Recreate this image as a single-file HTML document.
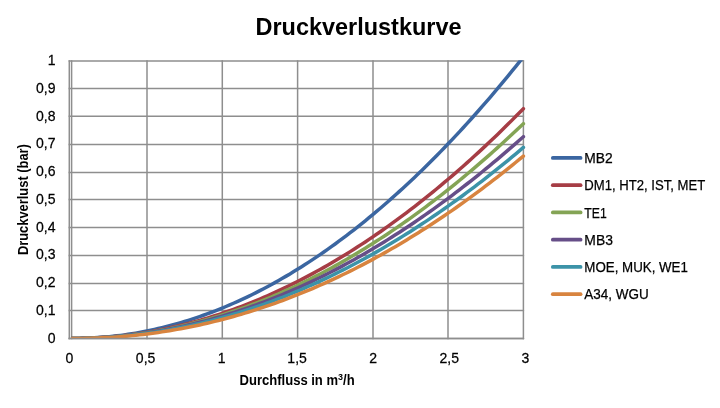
<!DOCTYPE html>
<html><head><meta charset="utf-8"><title>Druckverlustkurve</title>
<style>
html,body{margin:0;padding:0;background:#fff;}
body{width:720px;height:408px;overflow:hidden;}
svg{display:block;filter:blur(0.3px);}
text{font-family:"Liberation Sans", sans-serif;fill:#000;}
.rg text{stroke:#000;stroke-width:0.25px;}
</style></head><body>
<svg width="720" height="408" viewBox="0 0 720 408">
<rect width="720" height="408" fill="#fff"/>
<defs><clipPath id="pa"><rect x="71.19999999999999" y="60.2" width="457.79999999999995" height="278.40"/></clipPath></defs>

<text x="358.5" y="34.7" text-anchor="middle" font-weight="bold" font-size="23" textLength="206" lengthAdjust="spacingAndGlyphs">Druckverlustkurve</text>
<g stroke="#8e8e8e" stroke-width="1.5" fill="none"><line x1="68.6" y1="338.50" x2="524.1" y2="338.50"/><line x1="68.6" y1="310.50" x2="524.1" y2="310.50"/><line x1="68.6" y1="283.50" x2="524.1" y2="283.50"/><line x1="68.6" y1="255.50" x2="524.1" y2="255.50"/><line x1="68.6" y1="227.50" x2="524.1" y2="227.50"/><line x1="68.6" y1="199.50" x2="524.1" y2="199.50"/><line x1="68.6" y1="172.50" x2="524.1" y2="172.50"/><line x1="68.6" y1="144.50" x2="524.1" y2="144.50"/><line x1="68.6" y1="116.30" x2="524.1" y2="116.30"/><line x1="68.6" y1="88.50" x2="524.1" y2="88.50"/><line x1="68.6" y1="61.00" x2="524.1" y2="61.00"/><line x1="71.60" y1="60.30" x2="71.60" y2="339.20"/><line x1="147.00" y1="60.30" x2="147.00" y2="339.20"/><line x1="222.30" y1="60.30" x2="222.30" y2="339.20"/><line x1="297.60" y1="60.30" x2="297.60" y2="339.20"/><line x1="373.00" y1="60.30" x2="373.00" y2="339.20"/><line x1="448.00" y1="60.30" x2="448.00" y2="339.20"/><line x1="523.40" y1="60.30" x2="523.40" y2="339.20"/><line x1="69.3" y1="60.30" x2="69.3" y2="339.20"/></g>
<g class="rg" font-size="15"><text transform="translate(55.5,342.70) scale(0.935,1)" text-anchor="end">0</text><text transform="translate(55.5,314.95) scale(0.935,1)" text-anchor="end">0,1</text><text transform="translate(55.5,287.20) scale(0.935,1)" text-anchor="end">0,2</text><text transform="translate(55.5,259.45) scale(0.935,1)" text-anchor="end">0,3</text><text transform="translate(55.5,231.70) scale(0.935,1)" text-anchor="end">0,4</text><text transform="translate(55.5,203.95) scale(0.935,1)" text-anchor="end">0,5</text><text transform="translate(55.5,176.20) scale(0.935,1)" text-anchor="end">0,6</text><text transform="translate(55.5,148.45) scale(0.935,1)" text-anchor="end">0,7</text><text transform="translate(55.5,120.70) scale(0.935,1)" text-anchor="end">0,8</text><text transform="translate(55.5,92.95) scale(0.935,1)" text-anchor="end">0,9</text><text transform="translate(55.5,65.20) scale(0.935,1)" text-anchor="end">1</text></g>
<g class="rg" font-size="15"><text transform="translate(69.40,362.9) scale(0.935,1)" text-anchor="middle">0</text><text transform="translate(145.60,362.9) scale(0.935,1)" text-anchor="middle">0,5</text><text transform="translate(221.60,362.9) scale(0.935,1)" text-anchor="middle">1</text><text transform="translate(297.10,362.9) scale(0.935,1)" text-anchor="middle">1,5</text><text transform="translate(373.10,362.9) scale(0.935,1)" text-anchor="middle">2</text><text transform="translate(449.30,362.9) scale(0.935,1)" text-anchor="middle">2,5</text><text transform="translate(525.50,362.9) scale(0.935,1)" text-anchor="middle">3</text></g>
<text x="239.6" y="385.4" font-weight="bold" font-size="13.8" textLength="115" lengthAdjust="spacingAndGlyphs">Durchfluss in m<tspan font-size="9.5" dy="-5.3">3</tspan><tspan dy="5.3">/h</tspan></text>
<text transform="translate(28.4,199.6) rotate(-90)" text-anchor="middle" font-weight="bold" font-size="13.8" textLength="111" lengthAdjust="spacingAndGlyphs">Druckverlust (bar)</text>
<g clip-path="url(#pa)" fill="none" stroke-width="3.5" stroke-linejoin="round" stroke-linecap="round"><polyline points="71.60,338.50 75.36,338.48 79.13,338.43 82.89,338.34 86.66,338.21 90.42,338.05 94.19,337.85 97.95,337.61 101.72,337.33 105.48,337.02 109.25,336.66 113.01,336.27 116.78,335.84 120.54,335.37 124.31,334.87 128.07,334.32 131.84,333.74 135.60,333.12 139.37,332.46 143.13,331.76 146.90,331.02 150.66,330.24 154.43,329.43 158.19,328.57 161.96,327.68 165.72,326.75 169.49,325.78 173.25,324.77 177.02,323.72 180.78,322.63 184.55,321.50 188.31,320.33 192.08,319.13 195.84,317.88 199.61,316.60 203.38,315.27 207.14,313.91 210.91,312.50 214.67,311.06 218.43,309.58 222.20,308.06 225.96,306.50 229.73,304.90 233.49,303.26 237.26,301.58 241.02,299.86 244.79,298.10 248.56,296.30 252.32,294.46 256.09,292.59 259.85,290.67 263.62,288.71 267.38,286.71 271.14,284.68 274.91,282.60 278.67,280.49 282.44,278.33 286.20,276.13 289.97,273.90 293.74,271.62 297.50,269.31 301.26,266.95 305.03,264.56 308.79,262.12 312.56,259.65 316.32,257.13 320.09,254.58 323.86,251.98 327.62,249.35 331.38,246.67 335.15,243.96 338.91,241.20 342.68,238.41 346.44,235.57 350.21,232.70 353.98,229.78 357.74,226.83 361.50,223.83 365.27,220.80 369.03,217.72 372.80,214.60 376.56,211.45 380.33,208.25 384.10,205.02 387.86,201.74 391.62,198.42 395.39,195.06 399.15,191.67 402.92,188.23 406.68,184.75 410.45,181.23 414.21,177.67 417.98,174.07 421.75,170.44 425.51,166.76 429.27,163.04 433.04,159.28 436.80,155.47 440.57,151.63 444.34,147.75 448.10,143.83 451.87,139.87 455.63,135.87 459.39,131.82 463.16,127.74 466.92,123.61 470.69,119.45 474.45,115.25 478.22,111.00 481.99,106.71 485.75,102.39 489.51,98.02 493.28,93.61 497.04,89.17 500.81,84.68 504.57,80.15 508.34,75.58 512.10,70.97 515.87,66.32 519.63,61.63 523.40,56.90" stroke="#3b66a1"/><polyline points="71.60,338.50 75.36,338.48 79.13,338.44 82.89,338.36 86.66,338.25 90.42,338.12 94.19,337.95 97.95,337.74 101.72,337.51 105.48,337.25 109.25,336.95 113.01,336.62 116.78,336.26 120.54,335.87 124.31,335.45 128.07,335.00 131.84,334.51 135.60,334.00 139.37,333.45 143.13,332.87 146.90,332.25 150.66,331.61 154.43,330.93 158.19,330.22 161.96,329.48 165.72,328.71 169.49,327.91 173.25,327.07 177.02,326.21 180.78,325.31 184.55,324.38 188.31,323.41 192.08,322.42 195.84,321.39 199.61,320.33 203.38,319.24 207.14,318.12 210.91,316.96 214.67,315.77 218.43,314.55 222.20,313.30 225.96,312.02 229.73,310.70 233.49,309.36 237.26,307.98 241.02,306.56 244.79,305.12 248.56,303.65 252.32,302.14 256.09,300.60 259.85,299.02 263.62,297.42 267.38,295.78 271.14,294.11 274.91,292.41 278.67,290.68 282.44,288.91 286.20,287.12 289.97,285.29 293.74,283.42 297.50,281.53 301.26,279.60 305.03,277.65 308.79,275.65 312.56,273.63 316.32,271.58 320.09,269.49 323.86,267.37 327.62,265.22 331.38,263.03 335.15,260.81 338.91,258.57 342.68,256.28 346.44,253.97 350.21,251.62 353.98,249.25 357.74,246.84 361.50,244.39 365.27,241.92 369.03,239.41 372.80,236.87 376.56,234.30 380.33,231.69 384.10,229.06 387.86,226.39 391.62,223.69 395.39,220.95 399.15,218.19 402.92,215.39 406.68,212.56 410.45,209.69 414.21,206.80 417.98,203.87 421.75,200.91 425.51,197.92 429.27,194.89 433.04,191.83 436.80,188.74 440.57,185.62 444.34,182.46 448.10,179.28 451.87,176.06 455.63,172.81 459.39,169.52 463.16,166.20 466.92,162.85 470.69,159.47 474.45,156.06 478.22,152.61 481.99,149.13 485.75,145.62 489.51,142.08 493.28,138.50 497.04,134.89 500.81,131.25 504.57,127.57 508.34,123.87 512.10,120.13 515.87,116.36 519.63,112.55 523.40,108.72" stroke="#a63d45"/><polyline points="71.60,338.50 75.36,338.49 79.13,338.44 82.89,338.37 86.66,338.27 90.42,338.14 94.19,337.98 97.95,337.79 101.72,337.58 105.48,337.33 109.25,337.05 113.01,336.75 116.78,336.41 120.54,336.04 124.31,335.65 128.07,335.23 131.84,334.77 135.60,334.29 139.37,333.77 143.13,333.23 146.90,332.66 150.66,332.06 154.43,331.42 158.19,330.76 161.96,330.07 165.72,329.35 169.49,328.60 173.25,327.82 177.02,327.01 180.78,326.16 184.55,325.29 188.31,324.39 192.08,323.46 195.84,322.50 199.61,321.51 203.38,320.49 207.14,319.44 210.91,318.36 214.67,317.25 218.43,316.11 222.20,314.94 225.96,313.74 229.73,312.51 233.49,311.25 237.26,309.96 241.02,308.64 244.79,307.29 248.56,305.91 252.32,304.50 256.09,303.06 259.85,301.59 263.62,300.09 267.38,298.56 271.14,297.00 274.91,295.41 278.67,293.79 282.44,292.14 286.20,290.46 289.97,288.74 293.74,287.00 297.50,285.23 301.26,283.43 305.03,281.60 308.79,279.74 312.56,277.85 316.32,275.92 320.09,273.97 323.86,271.99 327.62,269.98 331.38,267.93 335.15,265.86 338.91,263.76 342.68,261.63 346.44,259.46 350.21,257.27 353.98,255.05 357.74,252.79 361.50,250.51 365.27,248.19 369.03,245.85 372.80,243.47 376.56,241.07 380.33,238.63 384.10,236.17 387.86,233.67 391.62,231.15 395.39,228.59 399.15,226.00 402.92,223.39 406.68,220.74 410.45,218.06 414.21,215.35 417.98,212.62 421.75,209.85 425.51,207.05 429.27,204.22 433.04,201.36 436.80,198.47 440.57,195.55 444.34,192.60 448.10,189.62 451.87,186.61 455.63,183.57 459.39,180.50 463.16,177.40 466.92,174.27 470.69,171.11 474.45,167.91 478.22,164.69 481.99,161.44 485.75,158.15 489.51,154.84 493.28,151.50 497.04,148.12 500.81,144.72 504.57,141.28 508.34,137.81 512.10,134.32 515.87,130.79 519.63,127.24 523.40,123.65" stroke="#84a455"/><polyline points="71.60,338.50 75.36,338.49 79.13,338.44 82.89,338.37 86.66,338.28 90.42,338.15 94.19,338.00 97.95,337.81 101.72,337.60 105.48,337.36 109.25,337.10 113.01,336.80 116.78,336.48 120.54,336.13 124.31,335.75 128.07,335.35 131.84,334.91 135.60,334.45 139.37,333.96 143.13,333.44 146.90,332.89 150.66,332.32 154.43,331.72 158.19,331.09 161.96,330.43 165.72,329.74 169.49,329.03 173.25,328.28 177.02,327.51 180.78,326.71 184.55,325.89 188.31,325.03 192.08,324.15 195.84,323.24 199.61,322.30 203.38,321.33 207.14,320.34 210.91,319.32 214.67,318.26 218.43,317.19 222.20,316.08 225.96,314.94 229.73,313.78 233.49,312.59 237.26,311.37 241.02,310.12 244.79,308.85 248.56,307.54 252.32,306.21 256.09,304.85 259.85,303.47 263.62,302.05 267.38,300.61 271.14,299.14 274.91,297.64 278.67,296.11 282.44,294.55 286.20,292.97 289.97,291.36 293.74,289.72 297.50,288.05 301.26,286.35 305.03,284.63 308.79,282.88 312.56,281.10 316.32,279.29 320.09,277.46 323.86,275.59 327.62,273.70 331.38,271.78 335.15,269.83 338.91,267.86 342.68,265.85 346.44,263.82 350.21,261.76 353.98,259.67 357.74,257.56 361.50,255.41 365.27,253.24 369.03,251.04 372.80,248.81 376.56,246.56 380.33,244.27 384.10,241.96 387.86,239.62 391.62,237.25 395.39,234.85 399.15,232.43 402.92,229.98 406.68,227.50 410.45,224.99 414.21,222.45 417.98,219.89 421.75,217.30 425.51,214.67 429.27,212.03 433.04,209.35 436.80,206.64 440.57,203.91 444.34,201.15 448.10,198.36 451.87,195.55 455.63,192.70 459.39,189.83 463.16,186.93 466.92,184.00 470.69,181.04 474.45,178.06 478.22,175.04 481.99,172.00 485.75,168.93 489.51,165.84 493.28,162.71 497.04,159.56 500.81,156.38 504.57,153.17 508.34,149.93 512.10,146.67 515.87,143.37 519.63,140.05 523.40,136.70" stroke="#664e88"/><polyline points="71.60,338.50 75.36,338.49 79.13,338.45 82.89,338.39 86.66,338.30 90.42,338.18 94.19,338.04 97.95,337.87 101.72,337.68 105.48,337.46 109.25,337.21 113.01,336.94 116.78,336.64 120.54,336.32 124.31,335.97 128.07,335.59 131.84,335.18 135.60,334.75 139.37,334.30 143.13,333.81 146.90,333.31 150.66,332.77 154.43,332.21 158.19,331.62 161.96,331.00 165.72,330.36 169.49,329.69 173.25,329.00 177.02,328.28 180.78,327.53 184.55,326.76 188.31,325.95 192.08,325.13 195.84,324.27 199.61,323.39 203.38,322.48 207.14,321.55 210.91,320.59 214.67,319.60 218.43,318.59 222.20,317.55 225.96,316.48 229.73,315.39 233.49,314.27 237.26,313.12 241.02,311.95 244.79,310.75 248.56,309.52 252.32,308.26 256.09,306.98 259.85,305.68 263.62,304.34 267.38,302.98 271.14,301.59 274.91,300.18 278.67,298.74 282.44,297.27 286.20,295.77 289.97,294.25 293.74,292.70 297.50,291.13 301.26,289.53 305.03,287.90 308.79,286.24 312.56,284.56 316.32,282.85 320.09,281.12 323.86,279.35 327.62,277.56 331.38,275.75 335.15,273.90 338.91,272.03 342.68,270.14 346.44,268.21 350.21,266.26 353.98,264.29 357.74,262.28 361.50,260.25 365.27,258.19 369.03,256.11 372.80,254.00 376.56,251.86 380.33,249.69 384.10,247.50 387.86,245.28 391.62,243.03 395.39,240.76 399.15,238.46 402.92,236.13 406.68,233.78 410.45,231.40 414.21,228.99 417.98,226.55 421.75,224.09 425.51,221.60 429.27,219.09 433.04,216.55 436.80,213.98 440.57,211.38 444.34,208.76 448.10,206.11 451.87,203.43 455.63,200.73 459.39,197.99 463.16,195.24 466.92,192.45 470.69,189.64 474.45,186.80 478.22,183.93 481.99,181.04 485.75,178.12 489.51,175.17 493.28,172.20 497.04,169.20 500.81,166.17 504.57,163.12 508.34,160.03 512.10,156.93 515.87,153.79 519.63,150.63 523.40,147.44" stroke="#3c93a8"/><polyline points="71.60,338.50 75.36,338.49 79.13,338.46 82.89,338.41 86.66,338.33 90.42,338.24 94.19,338.12 97.95,337.98 101.72,337.81 105.48,337.62 109.25,337.41 113.01,337.17 116.78,336.91 120.54,336.63 124.31,336.32 128.07,335.98 131.84,335.63 135.60,335.24 139.37,334.84 143.13,334.40 146.90,333.95 150.66,333.47 154.43,332.96 158.19,332.43 161.96,331.87 165.72,331.29 169.49,330.69 173.25,330.05 177.02,329.40 180.78,328.71 184.55,328.01 188.31,327.27 192.08,326.51 195.84,325.73 199.61,324.92 203.38,324.08 207.14,323.22 210.91,322.34 214.67,321.42 218.43,320.48 222.20,319.52 225.96,318.53 229.73,317.51 233.49,316.47 237.26,315.40 241.02,314.31 244.79,313.19 248.56,312.04 252.32,310.87 256.09,309.67 259.85,308.44 263.62,307.19 267.38,305.91 271.14,304.61 274.91,303.28 278.67,301.92 282.44,300.54 286.20,299.13 289.97,297.69 293.74,296.23 297.50,294.74 301.26,293.23 305.03,291.68 308.79,290.11 312.56,288.52 316.32,286.90 320.09,285.25 323.86,283.57 327.62,281.87 331.38,280.14 335.15,278.39 338.91,276.60 342.68,274.79 346.44,272.96 350.21,271.09 353.98,269.21 357.74,267.29 361.50,265.34 365.27,263.37 369.03,261.38 372.80,259.35 376.56,257.30 380.33,255.22 384.10,253.12 387.86,250.98 391.62,248.82 395.39,246.64 399.15,244.42 402.92,242.18 406.68,239.91 410.45,237.62 414.21,235.29 417.98,232.95 421.75,230.57 425.51,228.16 429.27,225.73 433.04,223.27 436.80,220.79 440.57,218.27 444.34,215.73 448.10,213.16 451.87,210.57 455.63,207.95 459.39,205.30 463.16,202.62 466.92,199.91 470.69,197.18 474.45,194.42 478.22,191.63 481.99,188.82 485.75,185.97 489.51,183.10 493.28,180.21 497.04,177.28 500.81,174.33 504.57,171.35 508.34,168.34 512.10,165.30 515.87,162.24 519.63,159.15 523.40,156.03" stroke="#d8843f"/></g>
<line x1="68.6" y1="338.5" x2="524.1" y2="338.5" stroke="#8e8e8e" stroke-width="1.5"/>
<g class="rg"><line x1="552.8" y1="157.90" x2="580.6" y2="157.90" stroke="#3b66a1" stroke-width="3.7" stroke-linecap="round"/><text x="584.30" y="163.00" font-size="14.8" textLength="28.4" lengthAdjust="spacingAndGlyphs">MB2</text><line x1="552.8" y1="185.15" x2="580.6" y2="185.15" stroke="#a63d45" stroke-width="3.7" stroke-linecap="round"/><text x="584.30" y="190.25" font-size="14.8" textLength="121" lengthAdjust="spacingAndGlyphs">DM1, HT2, IST, MET</text><line x1="552.8" y1="212.40" x2="580.6" y2="212.40" stroke="#84a455" stroke-width="3.7" stroke-linecap="round"/><text x="584.30" y="217.50" font-size="14.8" textLength="22.4" lengthAdjust="spacingAndGlyphs">TE1</text><line x1="552.8" y1="239.65" x2="580.6" y2="239.65" stroke="#664e88" stroke-width="3.7" stroke-linecap="round"/><text x="584.30" y="244.75" font-size="14.8" textLength="28.6" lengthAdjust="spacingAndGlyphs">MB3</text><line x1="552.8" y1="266.90" x2="580.6" y2="266.90" stroke="#3c93a8" stroke-width="3.7" stroke-linecap="round"/><text x="584.30" y="272.00" font-size="14.8" textLength="103.6" lengthAdjust="spacingAndGlyphs">MOE, MUK, WE1</text><line x1="552.8" y1="294.15" x2="580.6" y2="294.15" stroke="#d8843f" stroke-width="3.7" stroke-linecap="round"/><text x="584.30" y="299.25" font-size="14.8" textLength="64.4" lengthAdjust="spacingAndGlyphs">A34, WGU</text></g>
</svg>
</body></html>
